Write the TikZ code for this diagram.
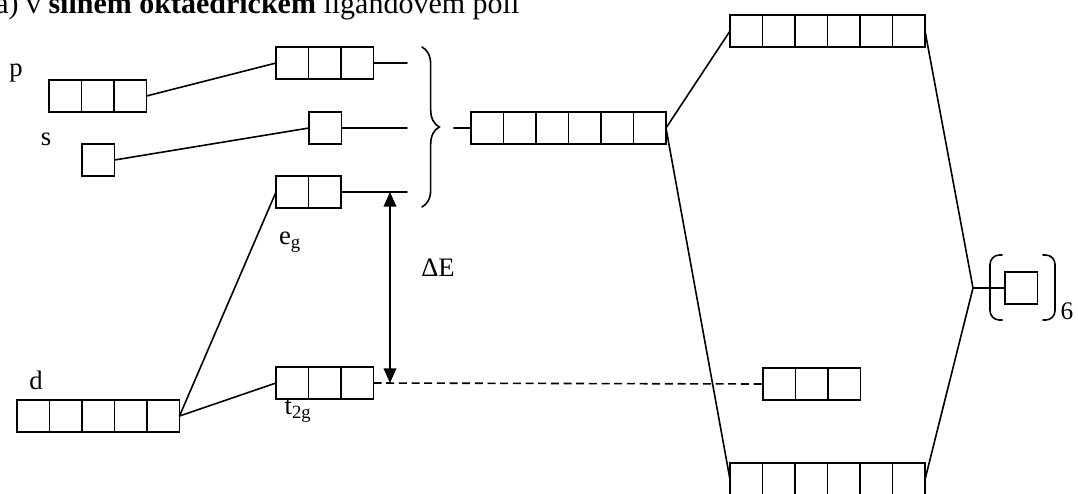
\documentclass[tikz,border=0pt]{standalone}
\usepackage{fontspec}
\setmainfont{Liberation Serif}
\usetikzlibrary{arrows.meta,decorations.pathreplacing}

\newlength{\cellw}
\setlength{\cellw}{24.375pt}

% one row of orbital cells: name, x, y (left middle), number of cells
\newcommand{\orbrow}[4]{%
  \node[orb, minimum width=#4*\cellw] (#1) at (#2,#3) {};
  \foreach \k in {1,...,#4}
    \draw[ln] ([xshift=(\k-1)*\cellw]#1.south west) rectangle ++(\cellw,\cellw);
}

\begin{document}
\begin{tikzpicture}[
  x=0.75pt, y=-0.75pt,
  ln/.style={line width=1.2pt, line cap=round},
  orb/.style={draw, line width=1.2pt, anchor=west, inner sep=0pt, outer sep=0pt,
    minimum height=\cellw},
  lbl/.style={font=\fontsize{20}{24}\selectfont, inner sep=0pt},
  tip/.style={{Triangle[length=11pt,width=9.5pt]}-{Triangle[length=11pt,width=9.5pt]}}
]
  \useasboundingbox (0,0) rectangle (1078,493);

  \node[anchor=base west, inner sep=0pt, font=\fontsize{22.5}{27}\selectfont]
    (title) at (-5,13) {a) v \textbf{silném oktaedrickém} ligandovém poli};

  % metal orbitals
  \orbrow{pL}{49}{96}{3}
  \orbrow{sL}{82}{160}{1}
  \orbrow{dL}{17}{416}{5}
  \node[lbl] (pLab) at (16,73) {p};
  \node[lbl] (sLab) at (46,139) {s};
  \node[lbl] (dLab) at (36,380) {d};

  % split levels
  \orbrow{pR}{276}{63}{3}
  \orbrow{sR}{309}{128}{1}
  \orbrow{eg}{276}{192}{2}
  \orbrow{tg}{276}{383}{3}
  \node[lbl] (egLab) at (290,242) {e\textsubscript{g}};
  \node[lbl] (tgLab) at (298,411) {t\textsubscript{2g}};

  \draw[ln] (pL.east) -- (pR.west);
  \draw[ln] (sL.east) -- (sR.west);
  \draw[ln] (dL.east) -- (eg.west);
  \draw[ln] (dL.east) -- (tg.west);

  \coordinate (pEnd)  at (407,63);
  \coordinate (sEnd)  at (407,128);
  \coordinate (egEnd) at (407,192);
  \draw[ln] (pR.east) -- (pEnd);
  \draw[ln] (sR.east) -- (sEnd);
  \draw[ln] (eg.east) -- (egEnd);

  % energy gap
  \coordinate (dEtop) at (390,192);
  \coordinate (dEbot) at (390,383);
  \draw[ln, tip] (dEtop) -- (dEbot);
  \node[lbl] (dELab) at (438,268) {ΔE};

  % brace and combined level
  \coordinate (brT) at (422,47);
  \coordinate (brB) at (422,207);
  \draw[ln, decorate, decoration={brace, amplitude=13pt}] (brT) -- (brB);
  \orbrow{sig}{471}{128}{6}
  \coordinate (sigIn) at (454,128);
  \draw[ln] (sigIn) -- (sig.west);

  % complex levels
  \orbrow{top}{730}{31}{6}
  \orbrow{tr}{763}{384}{3}
  \orbrow{bot}{730}{479.5}{6}
  \draw[ln] (sig.east) -- (top.west);
  \draw[ln] (sig.east) -- (bot.west);
  \draw[ln, dash pattern=on 6pt off 3.5pt, line cap=butt] (tg.east) -- (tr.west);

  % ligands
  \orbrow{lig}{1005}{288}{1}
  \coordinate (lj) at (973,288);
  \draw[ln] (top.east) -- (lj);
  \draw[ln] (bot.east) -- (lj);
  \draw[ln] (lj) -- (lig.west);
  \draw[ln, rounded corners=7pt] (1002,255) -- (990,255) -- (990,320) -- (1002,320);
  \draw[ln, rounded corners=7pt] (1043,255) -- (1055,255) -- (1055,320) -- (1043,320);
  \node[lbl, font=\fontsize{19}{22}\selectfont] (six) at (1067,311) {6};
\end{tikzpicture}
\end{document}
